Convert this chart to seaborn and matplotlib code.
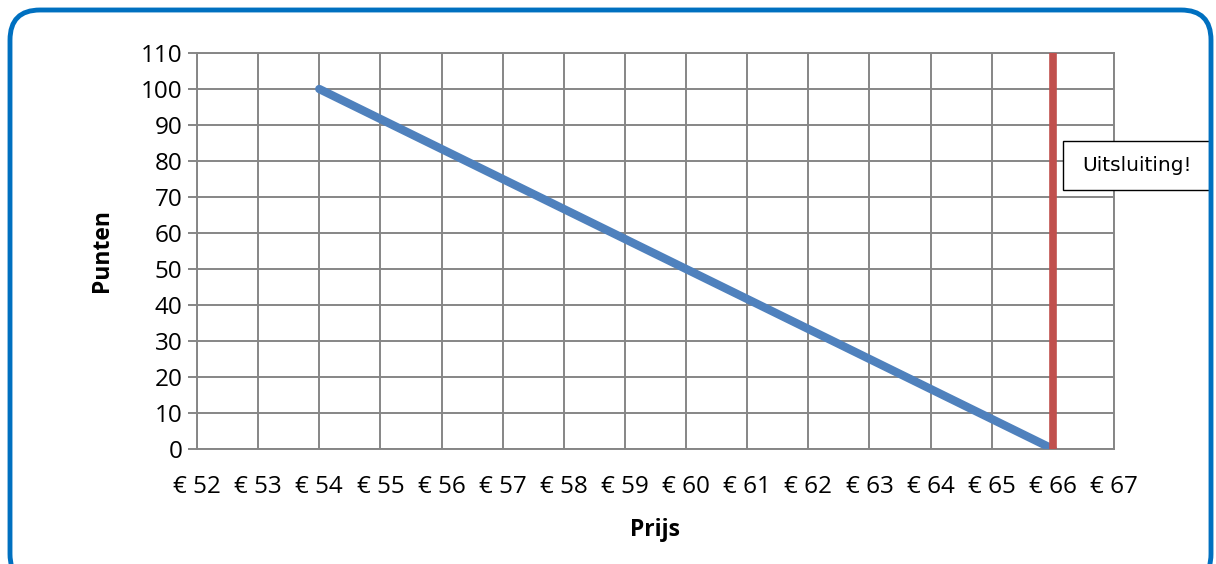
import matplotlib
matplotlib.use("Agg")
import matplotlib.pyplot as plt
from matplotlib.patches import FancyBboxPatch, Rectangle
from matplotlib.transforms import IdentityTransform
import seaborn as sns
import pandas as pd

# data
price = [54, 66]
points = [100, 0]
cutoff_x = [66, 66]
cutoff_y = [0, 110]
x_ticks = list(range(52, 68))
x_labels = [f"€ {v}" for v in x_ticks]
y_ticks = list(range(0, 111, 10))

sns.set_style("white")
plt.rcParams['font.family'] = ['Open Sans', 'DejaVu Sans']

W, H = 1216, 564
fig = plt.figure(figsize=(W / 100, H / 100), dpi=100)
ax = fig.add_axes([197 / W, 1 - 449 / H, (1114 - 197) / W, (449 - 53) / H])

grid_c = "#868686"
df_line = pd.DataFrame({"Prijs": price, "Punten": points})
df_cut = pd.DataFrame({"Prijs": cutoff_x, "Punten": cutoff_y})
sns.lineplot(data=df_line, x="Prijs", y="Punten", ax=ax, color="#4F81BD",
             linewidth=6, solid_capstyle="round", zorder=3,
             estimator=None, sort=False)
sns.lineplot(data=df_cut, x="Prijs", y="Punten", ax=ax, color="#C0504D",
             linewidth=5.5, solid_capstyle="butt", zorder=4,
             estimator=None, sort=False)

ax.set_xlim(52, 67)
ax.set_ylim(0, 110)
ax.set_xticks(x_ticks)
ax.set_xticklabels(x_labels)
ax.set_yticks(y_ticks)
ax.grid(True, color=grid_c, linewidth=1.4)
ax.set_axisbelow(True)
for s in ax.spines.values():
    s.set_color(grid_c)
    s.set_linewidth(1.4)
ax.tick_params(axis="y", which="both", left=True, length=6.5, width=1.4,
               color=grid_c, labelsize=17.5, labelcolor="black", pad=4)
ax.tick_params(axis="x", which="both", bottom=False, labelsize=17.5,
               labelcolor="black", pad=15)
ax.set_xlabel("Prijs", fontsize=16.5, fontweight="bold", labelpad=14, color="black")
ax.set_ylabel("Punten", fontsize=16.5, fontweight="bold", labelpad=19, color="black")

# annotation box
bx0, by0, bx1, by1 = 1063, 141, 1211, 190
fig.patches.append(Rectangle((bx0 / W, 1 - by1 / H), (bx1 - bx0) / W, (by1 - by0) / H,
                             transform=fig.transFigure, facecolor="white",
                             edgecolor="black", linewidth=1.0, zorder=10))
fig.text((bx0 + bx1) / 2 / W, 1 - (by0 + by1) / 2 / H, "Uitsluiting!",
         ha="center", va="center", fontsize=14.5, color="black",
         family=['DejaVu Sans'], zorder=11)

# rounded chart border (pixel coordinates, origin bottom-left)
fig.patches.append(FancyBboxPatch((10, -20), 1201, H - 10 + 20,
                                  boxstyle="round,pad=0,rounding_size=30",
                                  transform=IdentityTransform(), facecolor="none",
                                  edgecolor="#0070C0", linewidth=3.5, zorder=12))

fig.savefig("out.png", dpi=100)
